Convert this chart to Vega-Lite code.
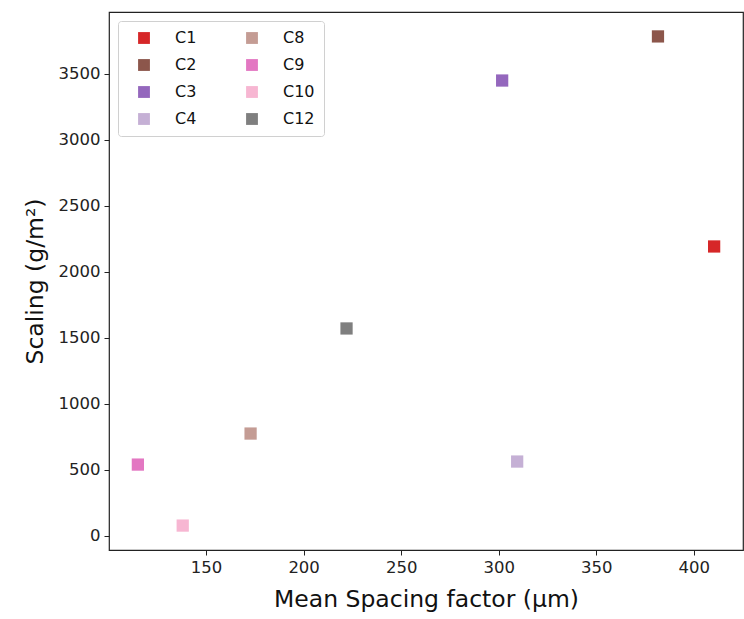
{
  "$schema": "https://vega.github.io/schema/vega-lite/v6.json",
  "width": 634,
  "height": 538,
  "autosize": {"type": "none"},
  "padding": {"left": 109, "top": 12, "right": 1, "bottom": 69},
  "background": "white",
  "config": {
    "font": "DejaVu Sans",
    "view": {"stroke": "#222", "strokeWidth": 1.2},
    "axis": {
      "grid": false,
      "domain": false,
      "tickColor": "#222",
      "tickSize": 5,
      "labelFont": "DejaVu Sans",
      "labelFontSize": 16.5,
      "labelColor": "#222",
      "labelPadding": 4,
      "titleFont": "DejaVu Sans",
      "titleFontSize": 23.5,
      "titleFontWeight": "normal",
      "titleColor": "#111"
    }
  },
  "data": {
    "values": [
      {"sample": "C1", "spacing": 410.5, "scaling": 2192},
      {"sample": "C2", "spacing": 381.7, "scaling": 3783},
      {"sample": "C3", "spacing": 301.8, "scaling": 3449},
      {"sample": "C4", "spacing": 309.5, "scaling": 563},
      {"sample": "C8", "spacing": 172.8, "scaling": 775},
      {"sample": "C9", "spacing": 115.0, "scaling": 540},
      {"sample": "C10", "spacing": 138.0, "scaling": 78},
      {"sample": "C12", "spacing": 222.0, "scaling": 1571}
    ]
  },
  "mark": {"type": "square", "size": 150, "opacity": 1, "filled": true},
  "encoding": {
    "x": {
      "field": "spacing",
      "type": "quantitative",
      "scale": {"domain": [100.2, 425.3], "nice": false, "zero": false},
      "axis": {"values": [150, 200, 250, 300, 350, 400], "format": "d", "title": "Mean Spacing factor (μm)", "titlePadding": 12}
    },
    "y": {
      "field": "scaling",
      "type": "quantitative",
      "scale": {"domain": [-107, 3968], "nice": false, "zero": false},
      "axis": {"values": [0, 500, 1000, 1500, 2000, 2500, 3000, 3500], "format": "d", "title": "Scaling (g/m²)", "titlePadding": 11}
    },
    "color": {
      "field": "sample",
      "type": "nominal",
      "sort": ["C1", "C2", "C3", "C4", "C8", "C9", "C10", "C12"],
      "scale": {
        "domain": ["C1", "C2", "C3", "C4", "C8", "C9", "C10", "C12"],
        "range": ["#d62728", "#8c564b", "#9467bd", "#c5b0d5", "#c49c94", "#e377c2", "#f7b6d2", "#7f7f7f"]
      },
      "legend": {
        "title": null,
        "orient": "none",
        "legendX": 9,
        "legendY": 9,
        "direction": "vertical",
        "columns": 2,
        "columnPadding": 38,
        "rowPadding": 11,
        "padding": 9,
        "symbolOffset": 9,
        "symbolType": "square",
        "symbolSize": 140,
        "labelFontSize": 16,
        "labelFont": "DejaVu Sans",
        "labelColor": "#111",
        "labelOffset": 23,
        "fillColor": "rgba(255,255,255,0.8)",
        "strokeColor": "#d0d0d0",
        "cornerRadius": 3
      }
    }
  }
}
